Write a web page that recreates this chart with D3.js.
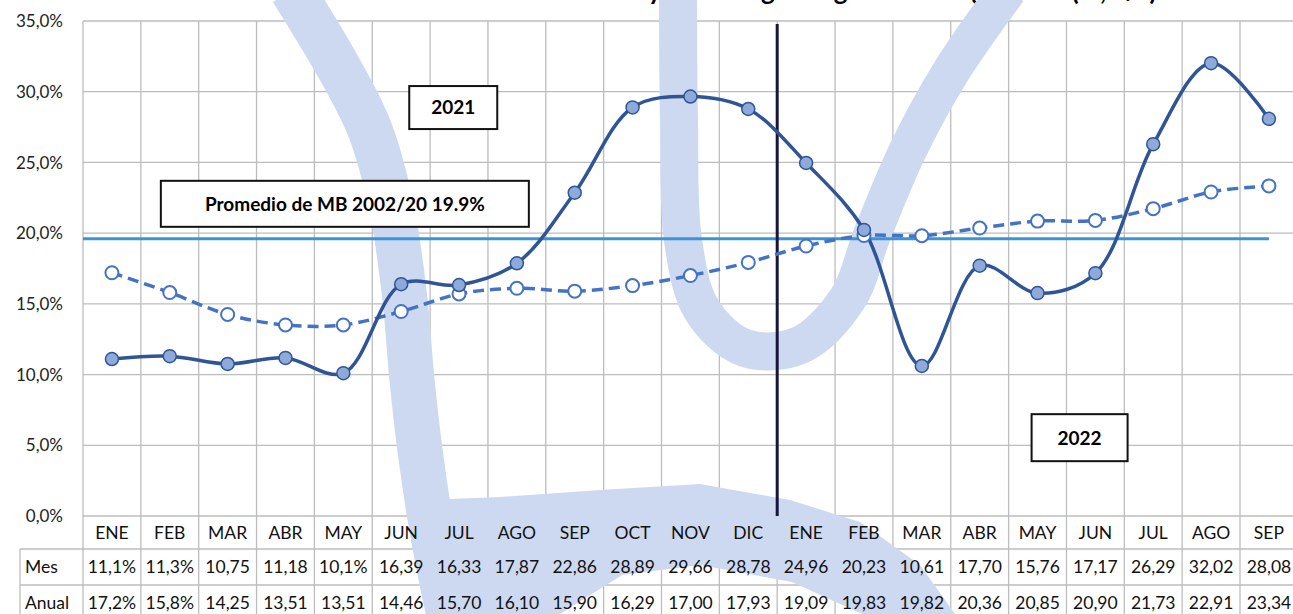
<!DOCTYPE html>
<html lang="es">
<head>
<meta charset="utf-8">
<style>
    body { margin: 0; background: #fff; }
    svg { display: block; font-family: Lato, "Open Sans", sans-serif; }
</style>
</head>
<body>
<svg width="1293" height="614"></svg>
<script src="https://cdn.jsdelivr.net/npm/d3@7/dist/d3.min.js"></script>
<script>
    // Data
    const categories = ["ENE", "FEB", "MAR", "ABR", "MAY", "JUN", "JUL", "AGO", "SEP", "OCT", "NOV", "DIC",
                        "ENE", "FEB", "MAR", "ABR", "MAY", "JUN", "JUL", "AGO", "SEP"];
    const mesValues = [11.1, 11.3, 10.75, 11.18, 10.1, 16.39, 16.33, 17.87, 22.86, 28.89, 29.66, 28.78,
                       24.96, 20.23, 10.61, 17.70, 15.76, 17.17, 26.29, 32.02, 28.08];
    const anualValues = [17.2, 15.8, 14.25, 13.51, 13.51, 14.46, 15.70, 16.10, 15.90, 16.29, 17.00, 17.93,
                         19.09, 19.83, 19.82, 20.36, 20.85, 20.90, 21.73, 22.91, 23.34];
    const mesLabels = ["11,1%", "11,3%", "10,75", "11,18", "10,1%", "16,39", "16,33", "17,87", "22,86", "28,89", "29,66", "28,78",
                       "24,96", "20,23", "10,61", "17,70", "15,76", "17,17", "26,29", "32,02", "28,08"];
    const anualLabels = ["17,2%", "15,8%", "14,25", "13,51", "13,51", "14,46", "15,70", "16,10", "15,90", "16,29", "17,00", "17,93",
                         "19,09", "19,83", "19,82", "20,36", "20,85", "20,90", "21,73", "22,91", "23,34"];
    const rowNames = ["Mes", "Anual"];
    const yTicks = [0, 5, 10, 15, 20, 25, 30, 35];
    const promedio = 19.6;          // drawn position of the average line
    const promedioText = "Promedio de MB 2002/20 19.9%";
    const yearSplit = 12;           // first month of 2022

    const svg = d3.select("svg");
    const W = 1293, H = 614;
    const plotLeft = 83, plotTop = 21, plotBottom = 516, colW = 57.85;
    const rowTop = [plotBottom, 549, 585];   // category row, Mes row, Anual row
    const rowH = [33, 36, 36];

    const x = d3.scaleBand().domain(d3.range(categories.length)).range([plotLeft, plotLeft + colW * categories.length]);
    const y = d3.scaleLinear().domain([0, 35]).range([plotBottom, plotTop]);
    const cx = i => x(i) + x.bandwidth() / 2;

    // Title (mostly above the top edge, as in the source image)
    svg.append("text")
        .attr("x", 700).attr("y", 0)
        .attr("text-anchor", "middle")
        .attr("font-weight", "bold").attr("font-size", 26)
        .text("Base monetaria: variación mensual y anual según registros del agregado (%, a/a)");

    /************************************************************
    * Grid + table lines
    ************************************************************/
    const grid = svg.append("g").attr("stroke", "#bdbdbd").attr("stroke-width", 1.3);
    yTicks.forEach(t => {
        grid.append("line").attr("x1", plotLeft).attr("x2", W).attr("y1", y(t)).attr("y2", y(t));
    });
    d3.range(categories.length + 1).forEach(i => {
        const xx = i < categories.length ? x(i) : x(i - 1) + x.bandwidth();
        grid.append("line").attr("x1", xx).attr("x2", xx).attr("y1", plotTop).attr("y2", H);
    });
    // table rows
    grid.append("line").attr("x1", 20).attr("x2", W).attr("y1", rowTop[1]).attr("y2", rowTop[1]);
    grid.append("line").attr("x1", 20).attr("x2", W).attr("y1", rowTop[2]).attr("y2", rowTop[2]);
    grid.append("line").attr("x1", 20).attr("x2", 20).attr("y1", rowTop[1]).attr("y2", H);

    /************************************************************
    * Watermark (logo behind the chart)
    ************************************************************/
    const wmColor = "#cdd9f0";
    const wm = svg.append("g").attr("fill", "none").attr("stroke", wmColor);
    const smooth = d3.line().curve(d3.curveCatmullRom);
    wm.append("path")
        .attr("stroke-width", 45)
        .attr("d", smooth([[292, -10], [340, 70], [370, 130], [392, 210], [405, 300], [412, 380], [420, 450], [432, 530], [452, 630]]));
    wm.append("path")
        .attr("stroke-width", 38)
        .attr("d", smooth([[678, -10], [679, 120], [683, 240], [702, 310], [745, 348], [800, 345], [848, 298], [872, 235], [908, 150], [952, 70], [1008, -10]]));
    wm.append("path")
        .attr("stroke", "none").attr("fill", wmColor)
        .attr("d", d3.line()([[425, 500], [500, 497], [600, 490], [700, 484], [790, 500], [860, 522], [920, 565], [955, 614],
                              [862, 614], [792, 582], [700, 565], [622, 575], [560, 614], [430, 614]]) + "Z");

    /************************************************************
    * Axis labels and table text
    ************************************************************/
    svg.append("g").selectAll("text").data(yTicks).join("text")
        .attr("x", 63).attr("y", d => y(d)).attr("dy", "0.36em")
        .attr("text-anchor", "end").attr("font-size", 17).attr("fill", "#222")
        .text(d => d3.format(".1f")(d).replace(".", ",") + "%");

    const table = svg.append("g").attr("font-size", 17.5).attr("fill", "#111").attr("text-anchor", "middle");
    table.selectAll(".cat").data(categories).join("text")
        .attr("class", "cat")
        .attr("x", (d, i) => cx(i)).attr("y", rowTop[0] + rowH[0] / 2).attr("dy", "0.36em")
        .text(d => d);
    [mesLabels, anualLabels].forEach((labels, r) => {
        table.append("text")
            .attr("x", 25).attr("y", rowTop[r + 1] + rowH[r + 1] / 2).attr("dy", "0.36em")
            .attr("text-anchor", "start").text(rowNames[r]);
        table.selectAll(".row" + r).data(labels).join("text")
            .attr("class", "row" + r)
            .attr("x", (d, i) => cx(i)).attr("y", rowTop[r + 1] + rowH[r + 1] / 2).attr("dy", "0.36em")
            .text(d => d);
    });

    /************************************************************
    * Annotations
    ************************************************************/
    svg.append("line")
        .attr("x1", plotLeft).attr("x2", cx(categories.length - 1))
        .attr("y1", y(promedio)).attr("y2", y(promedio))
        .attr("stroke", "#3a94d6").attr("stroke-width", 3);

    svg.append("line")
        .attr("x1", x(yearSplit)).attr("x2", x(yearSplit))
        .attr("y1", y(35) + 3).attr("y2", plotBottom)
        .attr("stroke", "#16163a").attr("stroke-width", 3);

    function labelBox(x0, y0, w, h, txt) {
        const g = svg.append("g");
        g.append("rect").attr("x", x0).attr("y", y0).attr("width", w).attr("height", h)
            .attr("fill", "#fff").attr("stroke", "#111").attr("stroke-width", 2);
        g.append("text").attr("x", x0 + w / 2).attr("y", y0 + h / 2).attr("dy", "0.36em")
            .attr("text-anchor", "middle").attr("font-weight", "bold").attr("font-size", 19)
            .text(txt);
    }
    labelBox(x(5) + 37, y(30.4), 88, 43, "2021");
    labelBox(x(1) + 20, y(23.7), 368, 46, promedioText);
    labelBox(x(16) + 23, y(7.2), 96, 47, "2022");

    /************************************************************
    * Series
    ************************************************************/
    const line = d3.line().x((d, i) => cx(i)).y(d => y(d)).curve(d3.curveCatmullRom);

    svg.append("path").datum(anualValues)
        .attr("d", line).attr("fill", "none")
        .attr("stroke", "#4472c4").attr("stroke-width", 3.5).attr("stroke-dasharray", "11,6");
    svg.append("path").datum(mesValues)
        .attr("d", line).attr("fill", "none")
        .attr("stroke", "#2f5597").attr("stroke-width", 3.5);

    svg.append("g").selectAll("circle").data(anualValues).join("circle")
        .attr("cx", (d, i) => cx(i)).attr("cy", d => y(d)).attr("r", 6.5)
        .attr("fill", "#fff").attr("stroke", "#4472c4").attr("stroke-width", 2);
    svg.append("g").selectAll("circle").data(mesValues).join("circle")
        .attr("cx", (d, i) => cx(i)).attr("cy", d => y(d)).attr("r", 6.5)
        .attr("fill", "#8eaadb").attr("stroke", "#2f5597").attr("stroke-width", 1.5);
</script>
</body>
</html>
